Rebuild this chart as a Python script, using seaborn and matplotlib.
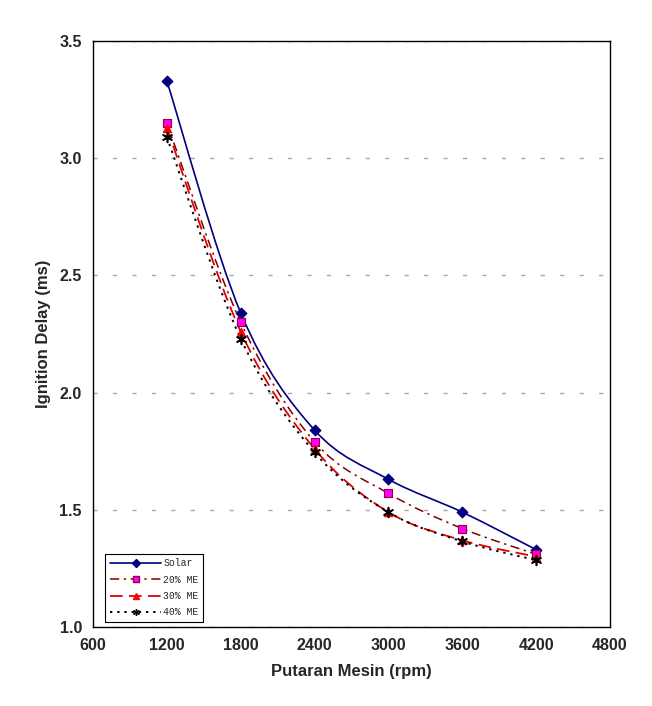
import numpy as np
import pandas as pd
import seaborn as sns
import matplotlib
matplotlib.use("Agg")
import matplotlib.pyplot as plt
from matplotlib.path import Path
from matplotlib.patches import PathPatch
from matplotlib.lines import Line2D

# ---- data ----
rpm = [1200, 1800, 2400, 3000, 3600, 4200]
solar = [3.33, 2.34, 1.84, 1.63, 1.49, 1.33]
me20 = [3.15, 2.30, 1.79, 1.57, 1.42, 1.31]
me30 = [3.13, 2.26, 1.76, 1.49, 1.37, 1.30]
me40 = [3.09, 2.23, 1.745, 1.49, 1.365, 1.285]
series_names = ["Solar", "20% ME", "30% ME", "40% ME"]
x_ticks = [600, 1200, 1800, 2400, 3000, 3600, 4200, 4800]
y_ticks = [1.0, 1.5, 2.0, 2.5, 3.0, 3.5]

sns.set_style("white")
plt.rcParams["font.family"] = ["Liberation Sans", "DejaVu Sans"]

fig = plt.figure(figsize=(6.52, 7.06), dpi=100)
ax = fig.add_axes([93 / 652, 1 - 627 / 706, 517 / 652, 586 / 706])

styles = [
    dict(color="#000080", ls="-", lw=1.2, marker="D", ms=5.5, mfc="#000080", mec="#000080"),
    dict(color="#800000", ls=(0, (6, 3, 1.5, 3)), lw=1.1, marker="s", ms=5.5, mfc="#FF00FF", mec="#990033"),
    dict(color="#E00000", ls=(0, (7, 3.5)), lw=1.3, marker="^", ms=6, mfc="#FF0000", mec="#FF0000"),
    dict(color="#000000", ls=(0, (1.2, 2.5)), lw=1.4, marker=(6, 2, 0), ms=7, mfc="#000000", mec="#000000"),
]


def smooth_path(xs, ys):
    pts = np.column_stack([xs, ys]).astype(float)
    n = len(pts)
    verts = [pts[0]]
    codes = [Path.MOVETO]
    for i in range(n - 1):
        p0 = pts[i - 1] if i > 0 else pts[i]
        p1 = pts[i]
        p2 = pts[i + 1]
        p3 = pts[i + 2] if i + 2 < n else pts[i + 1]
        c1 = p1 + (p2 - p0) / 6.0
        c2 = p2 - (p3 - p1) / 6.0
        verts += [c1, c2, p2]
        codes += [Path.CURVE4] * 3
    return Path(verts, codes)


all_series = [solar, me20, me30, me40]
handles = []
for name, vals, st in zip(series_names, all_series, styles):
    df = pd.DataFrame({"rpm": rpm, "delay": vals})
    patch = PathPatch(smooth_path(df["rpm"], df["delay"]), fill=False,
                      edgecolor=st["color"], linestyle=st["ls"], linewidth=st["lw"], zorder=3)
    ax.add_patch(patch)
    filled = st["marker"] != (6, 2, 0)
    if filled:
        sns.scatterplot(data=df, x="rpm", y="delay", ax=ax, marker=st["marker"],
                        s=st["ms"] ** 2, color=st["mfc"], edgecolor=st["mec"], linewidth=0.8,
                        zorder=5, legend=False)
    else:
        sns.scatterplot(data=df, x="rpm", y="delay", ax=ax, marker=st["marker"],
                        s=st["ms"] ** 2, color=st["mec"], linewidth=1.2,
                        zorder=5, legend=False)
    handles.append(Line2D([], [], color=st["color"], ls=st["ls"], lw=st["lw"],
                          marker=st["marker"], ms=st["ms"] * 0.7, mfc=st["mfc"], mec=st["mec"],
                          mew=1.0))

ax.set_xlim(600, 4800)
ax.set_ylim(1.0, 3.5)
ax.set_xticks(x_ticks)
ax.set_yticks(y_ticks)
ax.set_yticklabels([f"{v:.1f}" for v in y_ticks])
ax.set_xticklabels([str(v) for v in x_ticks])

ax.yaxis.grid(True, color="#A8A8A8", linestyle=(0, (3, 11)), linewidth=1.0)
ax.xaxis.grid(False)
ax.set_axisbelow(True)

for sp in ax.spines.values():
    sp.set_visible(True)
    sp.set_color("black")
    sp.set_linewidth(1.0)

ax.tick_params(axis="both", which="major", direction="out", length=4, width=1,
               color="black", labelsize=11.5, pad=4)
for lab in ax.get_xticklabels() + ax.get_yticklabels():
    lab.set_fontweight("bold")

ax.set_xlabel("Putaran Mesin (rpm)", fontsize=12, fontweight="bold", labelpad=8)
ax.set_ylabel("Ignition Delay (ms)", fontsize=12, fontweight="bold", labelpad=6)

leg = ax.legend(handles, series_names, loc="lower left", bbox_to_anchor=(0.023, 0.008),
                prop={"family": ["Liberation Mono", "DejaVu Sans Mono"], "size": 7},
                handlelength=5.3, handletextpad=0.2, labelspacing=0.65, borderpad=0.5,
                frameon=True, fancybox=False, framealpha=1, edgecolor="black",
                borderaxespad=0)
leg.get_frame().set_linewidth(0.8)

fig.savefig("out.png", dpi=100)
